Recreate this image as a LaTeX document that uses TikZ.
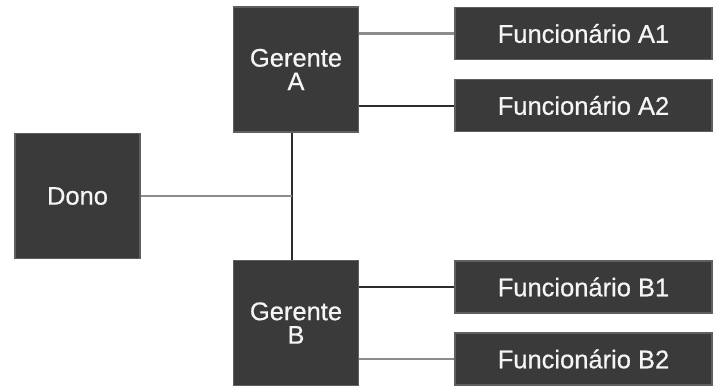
\documentclass[tikz,border=0pt]{standalone}
\usepackage{fontspec}
\setmainfont{Liberation Sans}
\newfontfamily\boxfont[FakeBold=0.6]{Liberation Sans}
\begin{document}
\begin{tikzpicture}[x=1pt,y=-1pt,
  box/.style={draw={rgb,255:red,95;green,95;blue,95}, line width=1.2pt,
    fill={rgb,255:red,58;green,58;blue,58}, text={rgb,255:red,245;green,245;blue,245}, inner sep=0pt,
    font=\boxfont\fontsize{25.5}{23.5}\selectfont, align=center},
  sq/.style={box, minimum width=125pt, minimum height=125pt},
  wide/.style={box, minimum width=257pt, minimum height=52pt},
  lgray/.style={draw={rgb,255:red,140;green,140;blue,140}, line width=2.8pt},
  ldark/.style={draw={rgb,255:red,45;green,45;blue,45}, line width=2pt}]
\useasboundingbox (0,0) rectangle (714,386);
\node[sq] (dono) at (77.5,196) {Dono};
\node[sq] (ga) at (296,69.5) {Gerente\\A};
\node[sq] (gb) at (296,323) {Gerente\\B};
\node[wide] (a1) at (583.5,33.5) {Funcionário A1};
\node[wide] (a2) at (583.5,105.5) {Funcionário A2};
\node[wide] (b1) at (583.5,287) {Funcionário B1};
\node[wide] (b2) at (583.5,359) {Funcionário B2};
\coordinate (j) at ([xshift=-4pt]ga.south);
\draw[ldark] (j) -- (j |- gb.north);
\draw[lgray] (dono.east) -- (dono.east -| j);
\draw[lgray] (ga.east |- a1.west) -- (a1.west);
\draw[ldark] (ga.east |- a2.west) -- (a2.west);
\draw[ldark] (gb.east |- b1.west) -- (b1.west);
\draw[lgray] (gb.east |- b2.west) -- (b2.west);
\end{tikzpicture}
\end{document}
